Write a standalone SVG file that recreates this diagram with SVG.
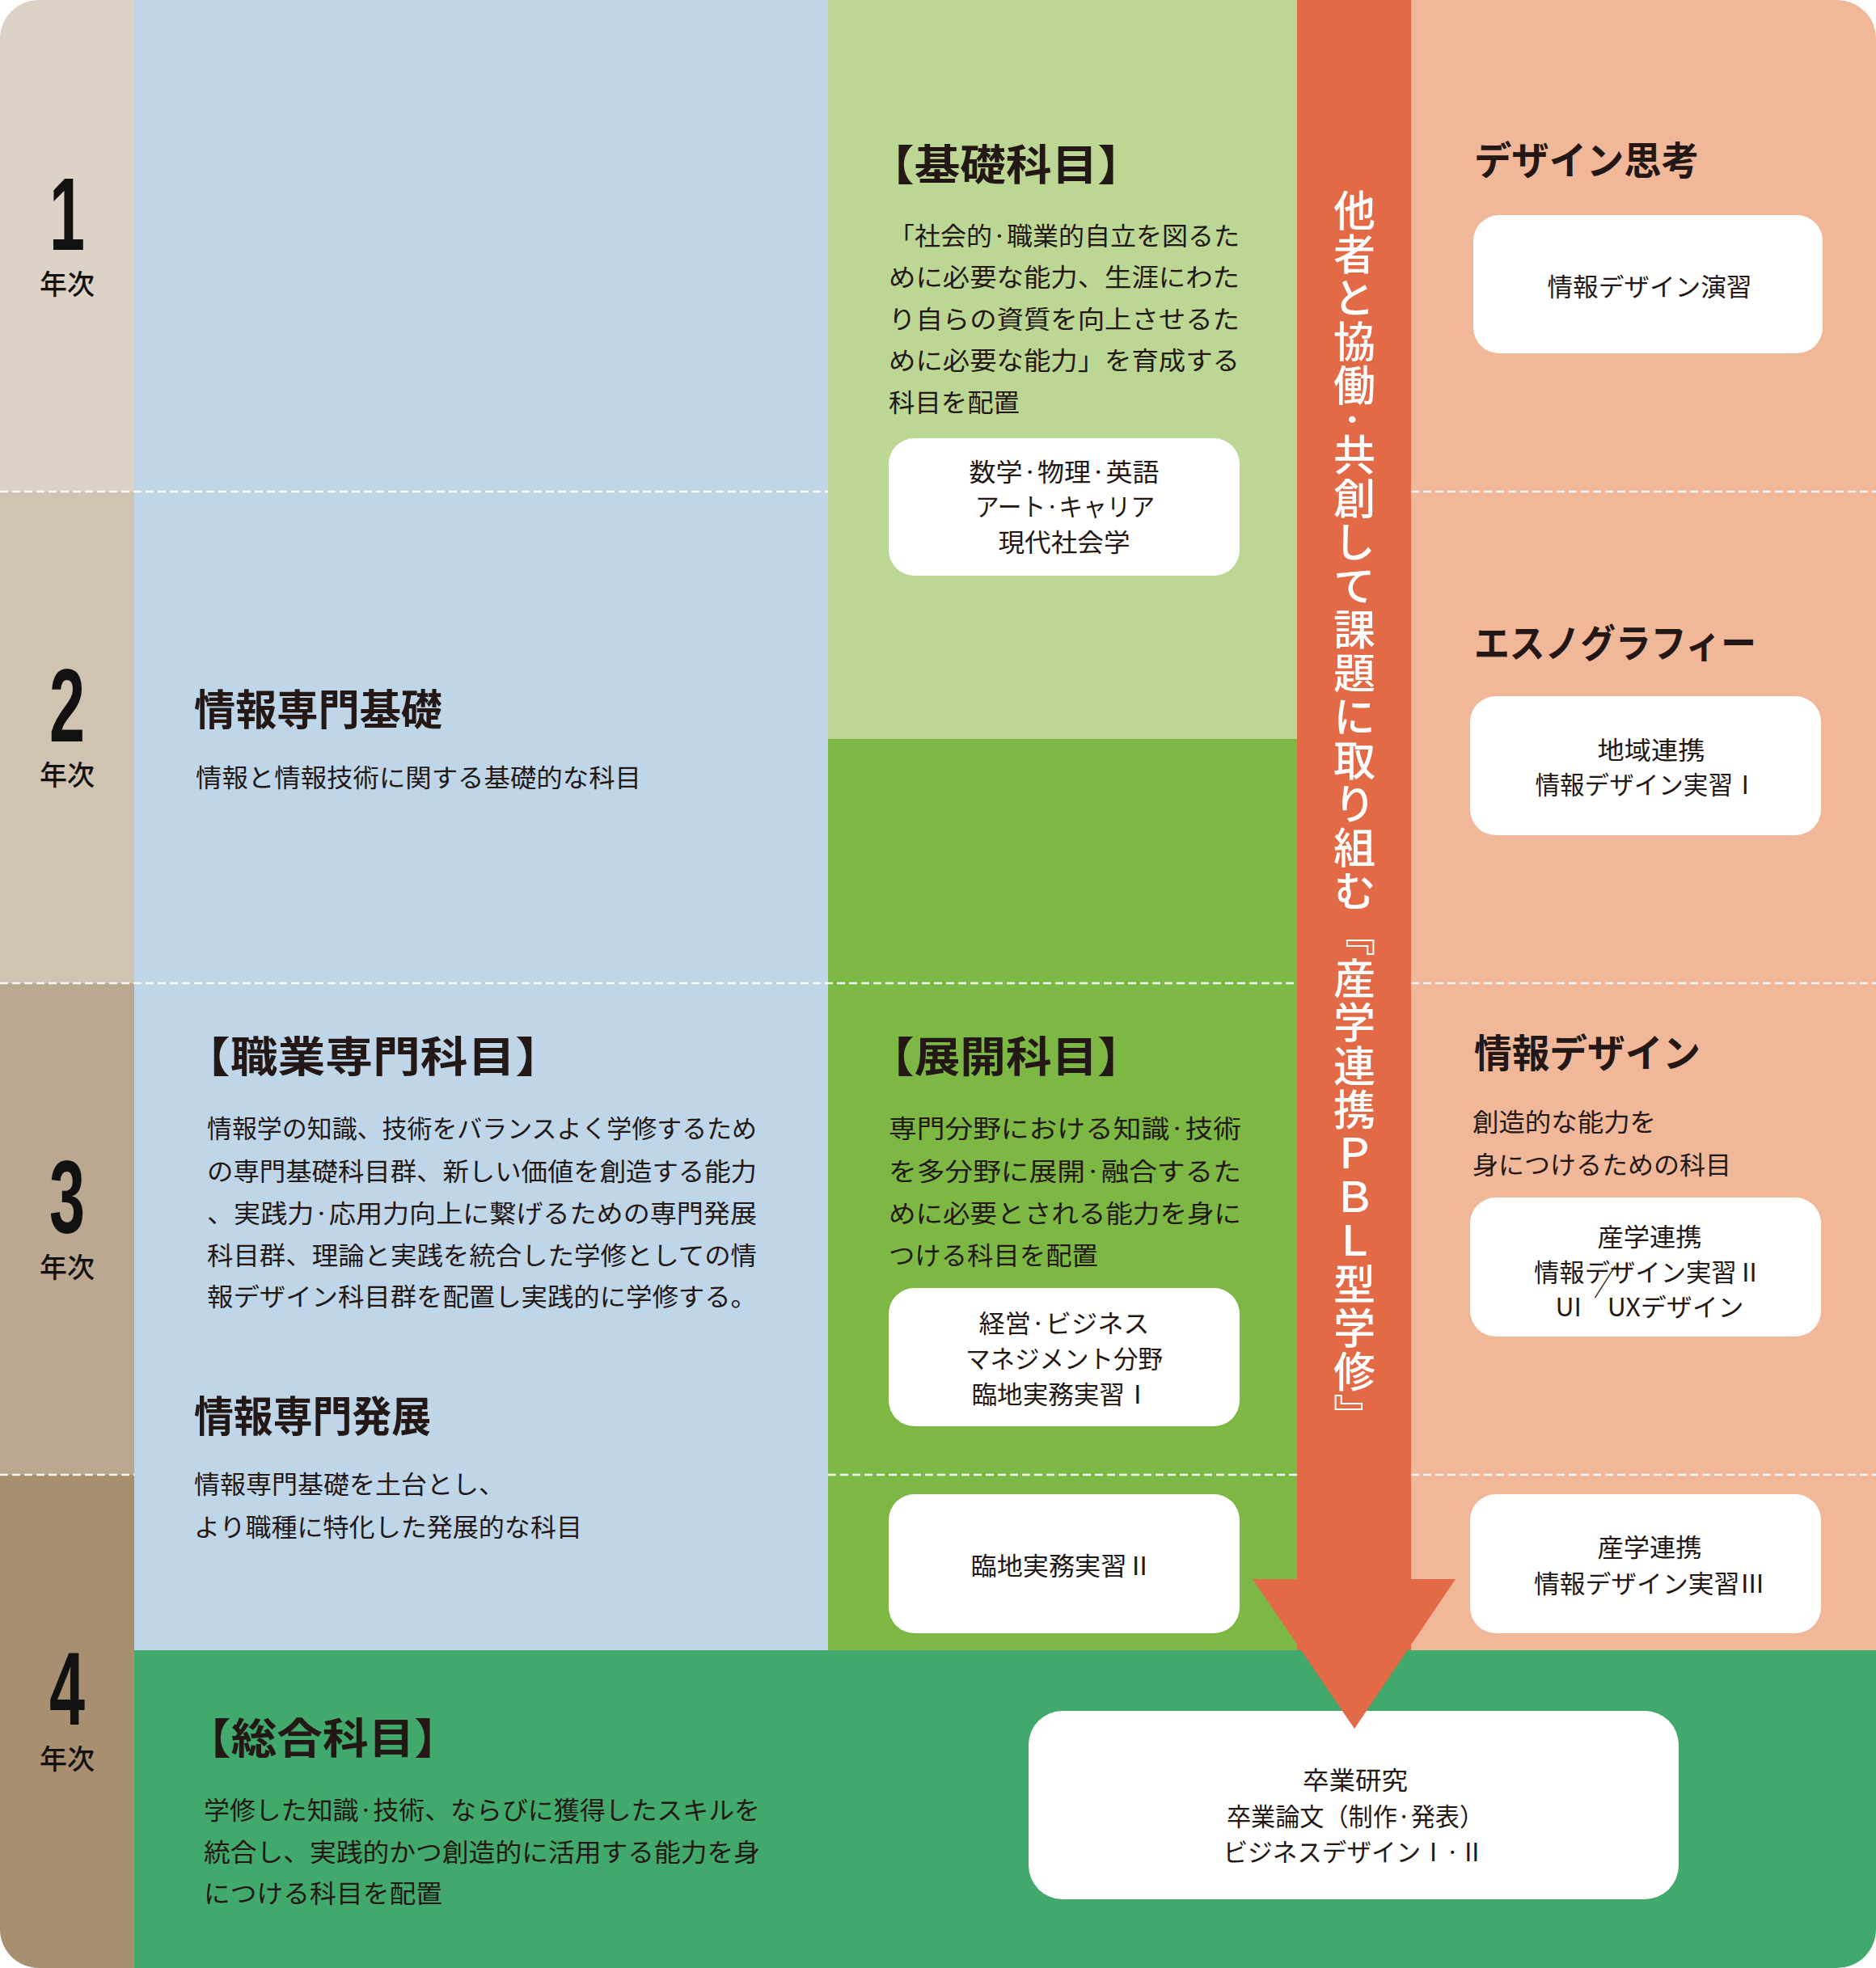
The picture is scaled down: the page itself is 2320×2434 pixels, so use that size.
<svg xmlns="http://www.w3.org/2000/svg" width="2320" height="2434" viewBox="0 0 2320 2434">
<defs>
  <clipPath id="outer"><rect x="0" y="0" width="2320" height="2434" rx="48" ry="48"/></clipPath>
  <style>
    text { font-family: "Noto Sans CJK JP", "Noto Sans", sans-serif; fill: #231815; dominant-baseline: central; }
    .h { font-weight: 700; font-size: 52px; }
    .hs { font-weight: 700; font-size: 48px; }
    .b { font-weight: 400; font-size: 31px; }
    .bx { font-weight: 400; font-size: 31px; text-anchor: middle; }
    .num { font-family: "Liberation Sans", Arial, sans-serif; font-weight: 700; font-size: 128px; text-anchor: middle; dominant-baseline: alphabetic; fill: #111; }
    .yr { font-weight: 500; font-size: 34px; text-anchor: middle; fill: #111; }
    .box { fill: #ffffff; }
    .dash { stroke: #ffffff; stroke-width: 2.5; stroke-dasharray: 10 5; fill: none; opacity: 0.9; }
    .pbl { font-weight: 500; font-size: 52px; fill: #ffffff; writing-mode: vertical-rl; dominant-baseline: auto; }
  </style>
</defs>

<g id="background" clip-path="url(#outer)">
  <rect x="0" y="0" width="166" height="608" fill="#DCD2C5"/>
  <rect x="0" y="608" width="166" height="608" fill="#D1C3B1"/>
  <rect x="0" y="1216" width="166" height="608" fill="#BBA890"/>
  <rect x="0" y="1824" width="166" height="610" fill="#A78F6F"/>
  <rect x="166" y="0" width="858" height="2041" fill="#BFD6E9"/>
  <rect x="1024" y="0" width="580" height="914" fill="#BCD693"/>
  <rect x="1024" y="914" width="580" height="1127" fill="#7DB844"/>
  <rect x="1604" y="0" width="141" height="2041" fill="#E26A46"/>
  <rect x="1745" y="0" width="575" height="2041" fill="#F0B799"/>
  <rect x="166" y="2041" width="2154" height="393" fill="#41A96B"/>
  <line class="dash" x1="0" y1="608" x2="1024" y2="608"/>
  <line class="dash" x1="1745" y1="608" x2="2320" y2="608"/>
  <line class="dash" x1="0" y1="1216" x2="1604" y2="1216"/>
  <line class="dash" x1="1745" y1="1216" x2="2320" y2="1216"/>
  <line class="dash" x1="0" y1="1824" x2="166" y2="1824"/>
  <line class="dash" x1="1024" y1="1824" x2="1604" y2="1824"/>
  <line class="dash" x1="1745" y1="1824" x2="2320" y2="1824"/>
</g>

<g id="years">
  <g id="year1"><text class="num" x="83" y="309" textLength="44" lengthAdjust="spacingAndGlyphs">1</text><text class="yr" x="83" y="349">年次</text></g>
  <g id="year2"><text class="num" x="83" y="917" textLength="44" lengthAdjust="spacingAndGlyphs">2</text><text class="yr" x="83" y="956">年次</text></g>
  <g id="year3"><text class="num" x="83" y="1525" textLength="44" lengthAdjust="spacingAndGlyphs">3</text><text class="yr" x="83" y="1565">年次</text></g>
  <g id="year4"><text class="num" x="83" y="2133" textLength="44" lengthAdjust="spacingAndGlyphs">4</text><text class="yr" x="83" y="2173">年次</text></g>
</g>

<g id="joho-kiso">
  <text class="h" x="240" y="874" textLength="307" lengthAdjust="spacingAndGlyphs">情報専門基礎</text>
  <text class="b" x="242" y="959" textLength="551" lengthAdjust="spacingAndGlyphs">情報と情報技術に関する基礎的な科目</text>
</g>

<g id="shokugyo-senmon">
  <text class="h" x="226" y="1303" textLength="470" lengthAdjust="spacingAndGlyphs">【職業専門科目】</text>
  <text class="b" x="256" y="1393" textLength="680" lengthAdjust="spacingAndGlyphs">情報学の知識、技術をバランスよく学修するため</text>
  <text class="b" x="256" y="1446" textLength="680" lengthAdjust="spacingAndGlyphs">の専門基礎科目群、新しい価値を創造する能力</text>
  <text class="b" x="256" y="1498" textLength="680" lengthAdjust="spacingAndGlyphs">、実践力·応用力向上に繋げるための専門発展</text>
  <text class="b" x="256" y="1550" textLength="680" lengthAdjust="spacingAndGlyphs">科目群、理論と実践を統合した学修としての情</text>
  <text class="b" x="256" y="1601" textLength="680" lengthAdjust="spacingAndGlyphs">報デザイン科目群を配置し実践的に学修する。</text>
</g>

<g id="joho-hatten">
  <text class="h" x="240" y="1748" textLength="293" lengthAdjust="spacingAndGlyphs">情報専門発展</text>
  <text class="b" x="240" y="1833" textLength="384" lengthAdjust="spacingAndGlyphs">情報専門基礎を土台とし、</text>
  <text class="b" x="240" y="1886" textLength="480" lengthAdjust="spacingAndGlyphs">より職種に特化した発展的な科目</text>
</g>

<g id="kiso-kamoku">
  <text class="h" x="1074" y="200" textLength="340" lengthAdjust="spacingAndGlyphs">【基礎科目】</text>
  <text class="b" x="1099" y="289" textLength="434" lengthAdjust="spacingAndGlyphs">「社会的·職業的自立を図るた</text>
  <text class="b" x="1099" y="340" textLength="434" lengthAdjust="spacingAndGlyphs">めに必要な能力、生涯にわた</text>
  <text class="b" x="1099" y="392" textLength="434" lengthAdjust="spacingAndGlyphs">り自らの資質を向上させるた</text>
  <text class="b" x="1099" y="443" textLength="434" lengthAdjust="spacingAndGlyphs">めに必要な能力」を育成する</text>
  <text class="b" x="1099" y="495" textLength="162" lengthAdjust="spacingAndGlyphs">科目を配置</text>
</g>
<g id="box-kiso">
  <rect class="box" x="1099" y="542" width="434" height="170" rx="32"/>
  <text class="bx" x="1316" y="581" textLength="235" lengthAdjust="spacingAndGlyphs">数学·物理·英語</text>
  <text class="bx" x="1317" y="624" textLength="222" lengthAdjust="spacingAndGlyphs">アート·キャリア</text>
  <text class="bx" x="1316" y="668" textLength="163" lengthAdjust="spacingAndGlyphs">現代社会学</text>
</g>

<g id="tenkai-kamoku">
  <text class="h" x="1074" y="1303" textLength="340" lengthAdjust="spacingAndGlyphs">【展開科目】</text>
  <text class="b" x="1099" y="1393" textLength="436" lengthAdjust="spacingAndGlyphs">専門分野における知識·技術</text>
  <text class="b" x="1099" y="1446" textLength="436" lengthAdjust="spacingAndGlyphs">を多分野に展開·融合するた</text>
  <text class="b" x="1099" y="1498" textLength="436" lengthAdjust="spacingAndGlyphs">めに必要とされる能力を身に</text>
  <text class="b" x="1099" y="1550" textLength="259" lengthAdjust="spacingAndGlyphs">つける科目を配置</text>
</g>
<g id="box-keiei">
  <rect class="box" x="1099" y="1593" width="434" height="171" rx="32"/>
  <text class="bx" x="1316" y="1634" textLength="211" lengthAdjust="spacingAndGlyphs">経営·ビジネス</text>
  <text class="bx" x="1316" y="1678" textLength="244" lengthAdjust="spacingAndGlyphs">マネジメント分野</text>
  <text class="bx" x="1312" y="1722" textLength="221" lengthAdjust="spacingAndGlyphs">臨地実務実習Ⅰ</text>
</g>
<g id="box-rinchi2">
  <rect class="box" x="1099" y="1848" width="434" height="172" rx="32"/>
  <text class="bx" x="1313" y="1934" textLength="225" lengthAdjust="spacingAndGlyphs">臨地実務実習Ⅱ</text>
</g>

<g id="design-shiko">
  <text class="hs" x="1823" y="195" textLength="278" lengthAdjust="spacingAndGlyphs">デザイン思考</text>
</g>
<g id="box-enshu">
  <rect class="box" x="1822" y="266" width="432" height="171" rx="32"/>
  <text class="bx" x="2040" y="352" textLength="253" lengthAdjust="spacingAndGlyphs">情報デザイン演習</text>
</g>

<g id="ethnography">
  <text class="hs" x="1823" y="792" textLength="349" lengthAdjust="spacingAndGlyphs">エスノグラフィー</text>
</g>
<g id="box-chiiki">
  <rect class="box" x="1818" y="861" width="434" height="172" rx="32"/>
  <text class="bx" x="2042" y="925" textLength="133" lengthAdjust="spacingAndGlyphs">地域連携</text>
  <text class="bx" x="2036" y="968" textLength="275" lengthAdjust="spacingAndGlyphs">情報デザイン実習Ⅰ</text>
</g>

<g id="joho-design">
  <text class="hs" x="1823" y="1299" textLength="280" lengthAdjust="spacingAndGlyphs">情報デザイン</text>
  <text class="b" x="1821" y="1385" textLength="227" lengthAdjust="spacingAndGlyphs">創造的な能力を</text>
  <text class="b" x="1821" y="1438" textLength="320" lengthAdjust="spacingAndGlyphs">身につけるための科目</text>
</g>
<g id="box-jisshu2">
  <rect class="box" x="1818" y="1481" width="434" height="172" rx="32"/>
  <text class="bx" x="2040" y="1527" textLength="129" lengthAdjust="spacingAndGlyphs">産学連携</text>
  <text class="bx" x="2038" y="1571" textLength="282" lengthAdjust="spacingAndGlyphs">情報デザイン実習Ⅱ</text>
  <text class="bx" x="2040" y="1614" textLength="233" lengthAdjust="spacingAndGlyphs">UI　UXデザイン</text>
  <text x="1985" y="1583" style="font-size:44px;font-weight:300;text-anchor:middle" textLength="28" lengthAdjust="spacingAndGlyphs">／</text>
</g>
<g id="box-jisshu3">
  <rect class="box" x="1818" y="1848" width="434" height="172" rx="32"/>
  <text class="bx" x="2040" y="1911" textLength="129" lengthAdjust="spacingAndGlyphs">産学連携</text>
  <text class="bx" x="2040" y="1956" textLength="286" lengthAdjust="spacingAndGlyphs">情報デザイン実習Ⅲ</text>
</g>

<g id="sogo-kamoku">
  <text class="h" x="229" y="2146" textLength="340" lengthAdjust="spacingAndGlyphs">【総合科目】</text>
  <text class="b" x="252" y="2236" textLength="688" lengthAdjust="spacingAndGlyphs">学修した知識·技術、ならびに獲得したスキルを</text>
  <text class="b" x="252" y="2288" textLength="688" lengthAdjust="spacingAndGlyphs">統合し、実践的かつ創造的に活用する能力を身</text>
  <text class="b" x="252" y="2339" textLength="295" lengthAdjust="spacingAndGlyphs">につける科目を配置</text>
</g>
<g id="box-sotsugyo">
  <rect class="box" x="1272" y="2116" width="804" height="233" rx="42"/>
  <text class="bx" x="1676" y="2199" textLength="130" lengthAdjust="spacingAndGlyphs">卒業研究</text>
  <text class="bx" x="1676" y="2244" textLength="318" lengthAdjust="spacingAndGlyphs">卒業論文（制作·発表）</text>
  <text class="bx" x="1674" y="2288" textLength="323" lengthAdjust="spacingAndGlyphs">ビジネスデザインⅠ·Ⅱ</text>
</g>

<g id="connectors">
  <path id="pbl-arrow" d="M1604 0 H1745 V1953 H1800 L1675 2138 L1549 1953 H1604 Z" fill="#E26A46"/>
  <text class="pbl" x="1675" y="234" letter-spacing="2">他者と協働·共創して課題に取り組む『産学連携ＰＢＬ型学修』</text>
</g>
</svg>
